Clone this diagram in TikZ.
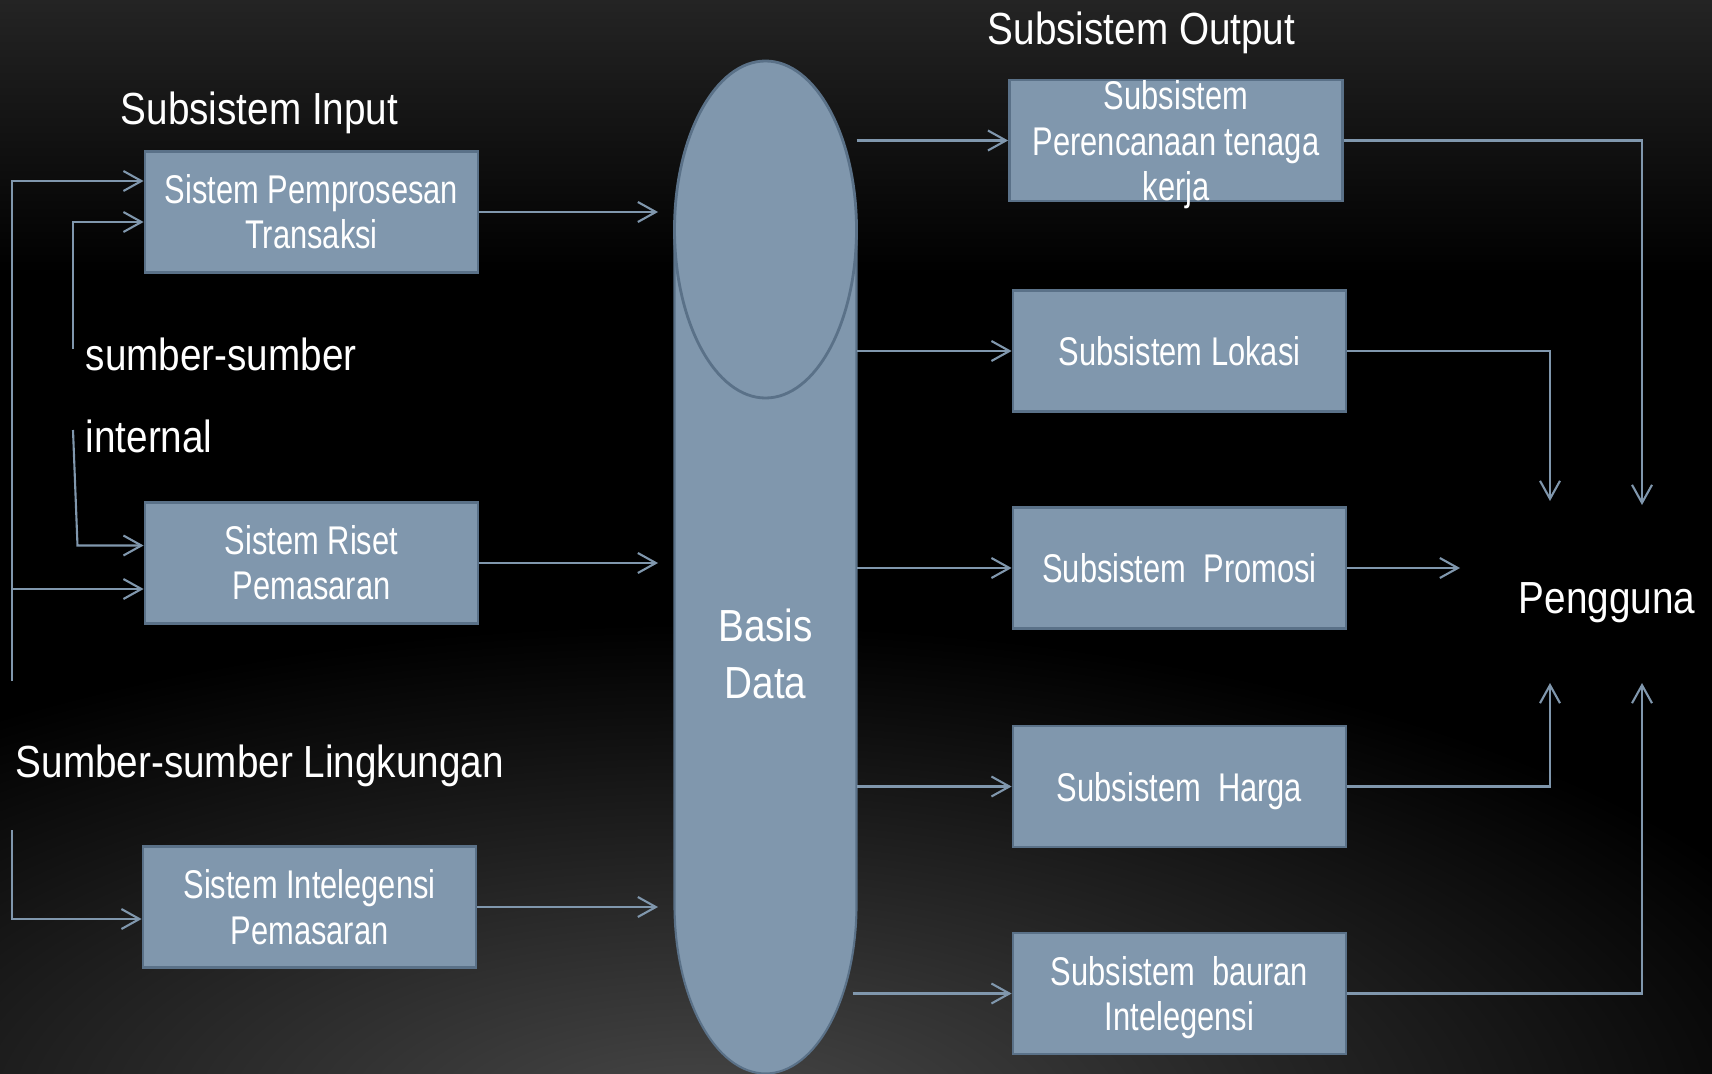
\documentclass[tikz,border=0pt]{standalone}
\usepackage{xcolor}
\usepackage{fontspec}
\usepackage{tikz}
\usetikzlibrary{arrows.meta}
\usetikzlibrary{positioning}
\setmainfont{Liberation Sans}
\newfontfamily\headfont{Liberation Sans}[FakeStretch=0.86]
\newfontfamily\boxfont{Liberation Sans}[FakeStretch=0.77]
\definecolor{boxfill}{RGB}{128,151,173}
\definecolor{boxline}{RGB}{90,113,136}
\definecolor{linkcol}{RGB}{128,151,173}
\definecolor{topgray}{RGB}{36,36,36}
\definecolor{glowgray}{RGB}{72,72,72}
\tikzset{>={Straight Barb[length=1.8mm,width=2mm]}}
\tikzstyle{sysbox} = [rectangle, draw=boxline, fill=boxfill, line width=0.8pt, minimum width=3.33cm, minimum height=1.21cm, inner sep=0pt, align=center, text=white, font=\boxfont\fontsize{11.4pt}{12.9pt}\selectfont]
\tikzstyle{heading} = [draw=none, text=white, inner sep=0pt, anchor=base west, font=\headfont\fontsize{12.8pt}{15pt}\selectfont]
\tikzstyle{dbtext} = [draw=none, text=white, inner sep=0pt, align=center, font=\headfont\fontsize{12.8pt}{16.2pt}\selectfont]
\tikzstyle{link} = [->, draw=linkcol, line width=0.6pt]

\begin{document}
\begin{tikzpicture}
\useasboundingbox (0,0) rectangle (17.12,10.73);
\fill [black] (0,0) rectangle (17.12,10.73);
\shade [top color=topgray, bottom color=black] (0,8.0) rectangle (17.12,10.73);
\begin{scope}
\clip (0,0) rectangle (17.12,10.73);
\shade [inner color=glowgray, outer color=black] (7.0,-0.5) ellipse [x radius=12, y radius=5];
\end{scope}

\coordinate (dbtop) at (7.655, 8.435);
\coordinate (dbbot) at (7.655, 1.68);
\filldraw [fill=boxfill, draw=boxline, line width=0.6pt] ([xshift=-9.1mm]dbtop) -- ([xshift=-9.1mm]dbbot) arc [start angle=180, end angle=360, x radius=9.1mm, y radius=16.85mm] -- ([xshift=9.1mm]dbtop);
\filldraw [fill=boxfill, draw=boxline, line width=0.8pt] (dbtop) ellipse [x radius=9.1mm, y radius=16.85mm];
\node [dbtext] (db) at (7.655, 4.195) {Basis\\Data};

\node [sysbox] (trans) at (3.115, 8.61) {Sistem Pemprosesan\\Transaksi};
\node [sysbox] (riset) at (3.115, 5.10) {Sistem Riset\\Pemasaran};
\node [sysbox] (intel) at (3.095, 1.66) {Sistem Intelegensi\\Pemasaran};
\node [sysbox, inner ysep=-0.8mm, text depth=0pt] (ren) at (11.76, 9.325) {Subsistem\\Perencanaan tenaga\\kerja};
\node [sysbox] (lok) at (11.795, 7.22) {Subsistem Lokasi};
\node [sysbox] (pro) at (11.795, 5.05) {Subsistem\ \ Promosi};
\node [sysbox, text depth=0pt] (har) at (11.795, 2.865) {Subsistem\ \ Harga};
\node [sysbox, text depth=0pt] (bau) at (11.795, 0.795) {Subsistem\ \ bauran\\Intelegensi};

\node [heading] (hin) at (1.20, 9.48) {Subsistem Input};
\node [heading] (hout) at (9.87, 10.28) {Subsistem Output};
\node [heading] (sint) at (0.85, 7.03) {sumber-sumber};
\node [heading] (sint2) at (0.85, 6.21) {internal};
\node [heading] (senv) at (0.15, 2.96) {Sumber-sumber Lingkungan};
\node [heading, anchor=base] (user) at (16.07, 4.60) {Pengguna};

\coordinate (extA) at (0.12, 3.92);
\coordinate (intU) at (0.73, 7.24);
\coordinate (intD) at (0.73, 6.43);
\coordinate (envA) at (0.12, 2.43);
\coordinate (dbin) at (6.58, 0);
\coordinate (dbout) at (8.565, 0);
\coordinate (uTL) at (15.50, 5.72);
\coordinate (uTR) at (16.42, 5.68);
\coordinate (uBL) at (15.50, 3.90);
\coordinate (uBR) at (16.42, 3.90);
\coordinate (uL) at (14.60, 0);

\draw [link] (extA) |- ([yshift=3.1mm]trans.west);
\draw [link] ([yshift=-2.6mm]riset.west -| extA) to ([yshift=-2.6mm]riset.west);
\draw [link] (intU) |- ([yshift=-1mm]trans.west);
\draw [link] (intD) -- ++(0.045,-1.155) -- ([yshift=1.75mm]riset.west);
\draw [link] (envA) |- ([yshift=-1.2mm]intel.west);

\draw [link] (trans.east) to (trans.east -| dbin);
\draw [link] (riset.east) to (riset.east -| dbin);
\draw [link] (intel.east) to (intel.east -| dbin);

\draw [link] (ren.west -| dbout) to (ren.west);
\draw [link] (lok.west -| dbout) to (lok.west);
\draw [link] (pro.west -| dbout) to (pro.west);
\draw [link] (har.west -| dbout) to (har.west);
\draw [link] ([xshift=-0.4mm]bau.west -| dbout) to (bau.west);

\draw [link] (ren.east) -| (uTR);
\draw [link] (lok.east) -| (uTL);
\draw [link] (pro.east) to (pro.east -| uL);
\draw [link] (har.east) -| (uBL);
\draw [link] (bau.east) -| (uBR);
\end{tikzpicture}
\end{document}
